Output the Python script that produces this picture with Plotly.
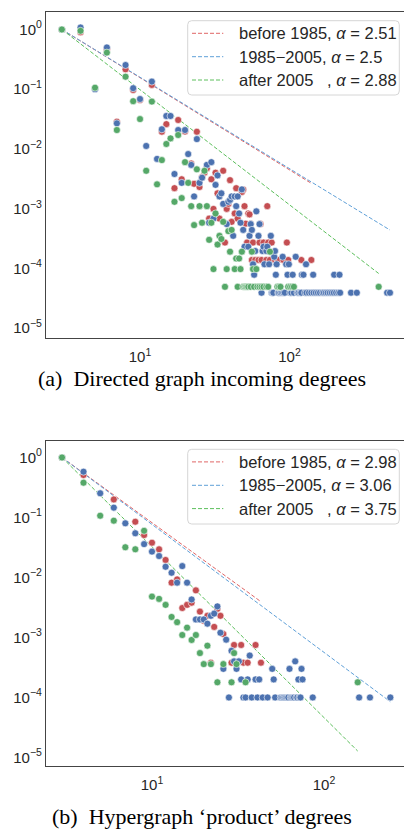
import plotly.graph_objects as go

# ---------------- data: panel (a) Directed graph incoming degrees ----------------
a_red_x = [3, 4, 6, 7, 8, 9, 10, 12, 14, 15, 17, 18, 19, 20, 22, 23, 24, 25, 26, 27, 28, 29, 30, 31,
           32, 33, 34, 36, 37, 38, 39, 40, 41, 43, 44, 45, 48, 49, 50, 51, 52, 53, 54, 55, 56, 57,
           59, 62, 63, 64, 65, 67, 70, 71, 72, 74, 76, 80, 84, 91, 96, 98, 120, 140]
a_red_y = [1.0, 0.9, 0.466, 0.0286, 0.215, 0.097, 0.066, 0.118, 0.0194, 0.026, 0.0022, 0.0305,
           0.0031, 0.0195, 0.0057, 0.0026, 0.0194, 0.0023, 0.0034, 0.0040, 0.0047, 0.00068, 0.0031,
           0.00099, 0.0040, 0.0018, 0.00068, 0.0043, 0.00027, 0.00099, 0.0012, 0.0030, 0.0006,
           0.00083, 0.0022, 0.00068, 0.0019, 0.0021, 0.0011, 0.00056, 0.00027, 0.00083, 0.0008,
           0.00055, 0.000138, 0.00027, 0.000138, 0.000138, 0.00027, 0.00055, 0.000138, 0.00027,
           0.000138, 0.0011, 0.00027, 0.000138, 0.00027, 0.000138, 0.000138, 0.000138, 0.00027,
           0.000138, 0.000138, 0.000138]

a_blue_x = [3, 4, 5, 6, 7, 8, 9, 10, 11, 12, 13, 14, 15, 16, 17, 18, 19, 20, 21, 22, 23, 24, 25, 26,
            28, 29, 30, 31, 32, 33, 34, 35, 36, 38, 39, 40, 41, 42, 43, 44, 45, 46, 47, 48, 49, 50,
            53, 54, 55, 56, 57, 58, 59, 60, 62, 63, 65, 66, 67, 68, 70, 71, 73, 75, 76, 77, 78, 79,
            80, 81, 82, 84, 85, 87, 89, 90, 91, 93, 95, 97, 99, 101, 103, 105, 107, 110, 113, 115,
            118, 120, 121, 124, 127, 129, 130, 135, 140, 144, 145, 150, 155, 160, 166, 170, 175,
            180, 186, 192, 198, 199, 205, 212, 216, 218, 258, 282, 450, 470]
a_blue_y = [1.0, 1.08, 0.10, 0.50, 0.0268, 0.254, 0.104, 0.0685, 0.0112, 0.134, 0.0068, 0.0213,
            0.0356, 0.0356, 0.0038, 0.0207, 0.0027, 0.0207, 0.0082, 0.0054, 0.0016, 0.0146, 0.0027,
            0.0033, 0.0054, 0.00058, 0.0060, 0.00068, 0.0025, 0.0036, 0.0016, 0.0018, 0.0012,
            0.00055, 0.0013, 0.0014, 0.0016, 0.00035, 0.0016, 0.0011, 0.0016, 0.00083, 0.00058,
            0.0021, 0.00044, 0.00023, 0.00023, 0.00035, 0.00055, 0.00044, 0.000117, 0.000078,
            0.000195, 0.0009, 0.00035, 0.00055, 0.000039, 0.000195, 0.00023, 0.000117, 0.000195,
            0.00023, 0.000117, 0.00035, 0.000039, 0.000039, 0.000039, 0.000156, 0.000195, 0.000078,
            0.000117, 0.000039, 0.000039, 0.000039, 0.000039, 0.000156, 0.000039, 0.000039,
            0.000117, 0.000078, 0.000117, 0.000039, 0.000039, 0.000078, 0.000039, 0.000156,
            0.000039, 0.000039, 0.000039, 0.000039, 0.000078, 0.000078, 0.000039, 0.000117,
            0.000039, 0.000039, 0.000039, 0.000078, 0.000039, 0.000039, 0.000039, 0.000039,
            0.000039, 0.000039, 0.000039, 0.000039, 0.000039, 0.000039, 0.000039, 0.000078,
            0.000039, 0.000039, 0.000078, 0.000039, 0.000039, 0.000039, 0.000039, 0.000039]

a_green_x = [3, 4, 5, 6, 7, 8, 9, 10, 11, 12, 13, 14, 15, 16, 17, 18, 19, 20, 21, 22, 23, 24, 25,
             26, 27, 28, 29, 30, 31, 32, 33, 34, 35, 36, 37, 38, 39, 40, 41, 43, 44, 45, 46, 47, 48,
             49, 50, 51, 52, 53, 55, 56, 57, 58, 60, 61, 63, 65, 67, 70, 72, 74, 83, 85, 87, 98,
             101, 104, 107, 395]
a_green_y = [1.0, 0.95, 0.106, 0.41, 0.0207, 0.162, 0.063, 0.0316, 0.0043, 0.062, 0.00255, 0.0065,
             0.0121, 0.015, 0.0013, 0.0171, 0.0015, 0.006, 0.0027, 0.0011, 0.00053, 0.00455, 0.0011,
             0.00058, 0.0043, 0.0011, 0.0003, 0.00058, 0.000097, 0.00083, 0.00025, 0.00035, 0.00031,
             0.0006, 0.000049, 0.000097, 0.00042, 0.00019, 0.00044, 0.000097, 0.000146, 0.000049,
             0.000146, 0.000097, 0.00019, 0.000049, 0.000049, 0.000049, 0.000049, 0.000049,
             0.000049, 0.00019, 0.000097, 0.000049, 0.000097, 0.000049, 0.000049, 0.000049,
             0.000049, 0.000049, 0.000049, 0.00019, 0.000049, 0.000049, 0.000049, 0.000049,
             0.000049, 0.000049, 0.000049, 0.000049]

a_alpha = [2.51, 2.5, 2.88]
# fitted power-law lines: value at the last degree of each period
a_fit_end_y = [0.00265, 0.000438, 0.000082]

# ---------------- data: panel (b) Hypergraph 'product' degrees ----------------
b_red_x = [3, 4, 6, 8, 9, 10, 11, 12, 13, 14, 15, 16, 17, 18, 19, 20, 21, 22, 23, 24, 25, 26, 29,
           30, 31, 33, 34, 36, 40, 43]
b_red_y = [1.0, 0.51, 0.20, 0.085, 0.051, 0.038, 0.0295, 0.0196, 0.0082, 0.0093, 0.0031, 0.0035,
           0.0038, 0.0061, 0.0027, 0.0019, 0.0023, 0.00038, 0.0015, 0.0030, 0.0023, 0.00114,
           0.00038, 0.00075, 0.00038, 0.00075, 0.00038, 0.00038, 0.00075, 0.00038]

b_blue_x = [3, 4, 5, 6, 7, 8, 9, 10, 11, 12, 13, 14, 15, 16, 17, 18, 19, 20, 21, 22, 23, 24, 25,
            26, 27, 28, 29, 30, 31, 32, 33, 34, 35, 36, 37, 38, 40, 41, 42, 44, 47, 50, 51, 52, 56,
            57, 58, 59, 60, 61, 62, 63, 64, 65, 66, 67, 68, 69, 70, 71, 72, 73, 74, 75, 86, 160,
            185, 243]
b_blue_y = [1.0, 0.58, 0.253, 0.146, 0.080, 0.0546, 0.036, 0.027, 0.0228, 0.0151, 0.012, 0.0082,
            0.0155, 0.0082, 0.0043, 0.0020, 0.0020, 0.0020, 0.0017, 0.0023, 0.0025, 0.0033, 0.0012,
            0.0003, 0.00092, 0.0001, 0.0006, 0.0004, 0.0003, 0.0004, 0.0002, 0.0001, 0.0001, 0.0002,
            0.0005, 0.0001, 0.0002, 0.0001, 0.0002, 0.0001, 0.0001, 0.0003, 0.0002, 0.0001, 0.0001,
            0.0001, 0.0001, 0.0001, 0.0001, 0.0001, 0.0001, 0.0003, 0.0001, 0.0001, 0.0001, 0.0001,
            0.0004, 0.0001, 0.0001, 0.0002, 0.0001, 0.0001, 0.0003, 0.0002, 0.0001, 0.0001, 0.0001,
            0.0001]

b_green_x = [3, 4, 5, 6, 7, 8, 9, 10, 11, 12, 13, 14, 15, 16, 17, 18, 19, 20, 21, 22, 24, 26, 29,
             30, 31, 35, 157]
b_green_y = [1.0, 0.38, 0.107, 0.0885, 0.0319, 0.0295, 0.060, 0.0048, 0.0044, 0.0035, 0.0022,
             0.0018, 0.0011, 0.00146, 0.00091, 0.0011, 0.00055, 0.00036, 0.00073, 0.00036, 0.000179,
             0.00036, 0.000179, 0.00055, 0.00036, 0.000179, 0.000179]

b_alpha = [2.98, 3.06, 3.75]
b_fit_end_y = [0.00395, 0.000085, 0.0000128]

periods = ["before 1985", "1985\u22122005", "after 2005\u00a0\u00a0\u00a0"]
x_min = 3
y_tick_vals = [1, 1e-1, 1e-2, 1e-3, 1e-4, 1e-5]
y_tick_text = ["10<sup>0</sup>", "10<sup>\u22121</sup>", "10<sup>\u22122</sup>",
               "10<sup>\u22123</sup>", "10<sup>\u22124</sup>", "10<sup>\u22125</sup>"]
x_tick_vals = [10, 100]
x_tick_text = ["10<sup>1</sup>", "10<sup>2</sup>"]
captions = ["(a)\u00a0 Directed graph incoming degrees", "(b)\u00a0 Hypergraph \u2018product\u2019 degrees"]

# ---------------- styling ----------------
W, H = 404, 835
dot_colors = ["#C44E52", "#4C72B0", "#55A868"]
line_colors = ["#e06666", "#5fa0d8", "#5cbf5c"]
SANS = "Liberation Sans, Arial, sans-serif"
SERIF = "Liberation Serif, Times New Roman, serif"
TXT = "#262626"
SPINE = "#444444"


def fx(px):
    return px / W


def fy(py):
    return 1 - py / H


fig = go.Figure()

panels = [
    dict(xs=[a_red_x, a_blue_x, a_green_x], ys=[a_red_y, a_blue_y, a_green_y], alpha=a_alpha,
         fit_end=a_fit_end_y,
         xa="x", ya="y", top=12, bottom=338, xr=[0.371, 2.766], yr=[-5.167, 0.293],
         leg_top=20.7, leg_bottom=95.0, cap=378),
    dict(xs=[b_red_x, b_blue_x, b_green_x], ys=[b_red_y, b_blue_y, b_green_y], alpha=b_alpha,
         fit_end=b_fit_end_y,
         xa="x2", ya="y2", top=441, bottom=765.7, xr=[0.384, 2.465], yr=[-5.137, 0.275],
         leg_top=449.3, leg_bottom=524.0, cap=816),
]

shapes = []
annotations = []
for p in panels:
    # fit lines first (drawn below the dots)
    for k in range(3):
        lx = [x_min, max(p["xs"][k])]
        ly = [p["ys"][k][0], p["fit_end"][k]]
        fig.add_trace(go.Scatter(x=lx, y=ly, mode="lines", xaxis=p["xa"], yaxis=p["ya"],
                                 line=dict(color=line_colors[k], width=1, dash="4px,2px"),
                                 showlegend=False, hoverinfo="skip"))
    for k in range(3):
        fig.add_trace(go.Scatter(x=p["xs"][k], y=p["ys"][k], mode="markers",
                                 xaxis=p["xa"], yaxis=p["ya"], showlegend=False,
                                 marker=dict(color=dot_colors[k], size=7,
                                             line=dict(color="white", width=0.6))))
    # legend box (rounded)
    x0, x1 = fx(187.7), fx(399.3)
    y0, y1 = fy(p["leg_bottom"]), fy(p["leg_top"])
    rx, ry = 4 / W, 4 / H
    path = (f"M {x0+rx},{y1} L {x1-rx},{y1} Q {x1},{y1} {x1},{y1-ry} L {x1},{y0+ry} "
            f"Q {x1},{y0} {x1-rx},{y0} L {x0+rx},{y0} Q {x0},{y0} {x0},{y0+ry} "
            f"L {x0},{y1-ry} Q {x0},{y1} {x0+rx},{y1} Z")
    shapes.append(dict(type="path", path=path, xref="paper", yref="paper",
                       fillcolor="rgba(255,255,255,0.85)", line=dict(color="#d6d6d6", width=1),
                       layer="above"))
    rows = [p["leg_top"] + 12.6, p["leg_top"] + 36.0, p["leg_top"] + 59.3]
    for k in range(3):
        shapes.append(dict(type="line", xref="paper", yref="paper", x0=fx(192), x1=fx(223.3),
                           y0=fy(rows[k]), y1=fy(rows[k]),
                           line=dict(color=line_colors[k], width=1, dash="4px,2px"), layer="above"))
        annotations.append(dict(xref="paper", yref="paper", x=fx(236.5), y=fy(rows[k]),
                                xanchor="left", yanchor="middle", showarrow=False,
                                text=f"{periods[k]}, <i>\u03b1</i> = {p['alpha'][k]}",
                                font=dict(family=SANS, size=16.5, color=TXT)))

for i, p in enumerate(panels):
    annotations.append(dict(xref="paper", yref="paper", x=0.5, y=fy(p["cap"]), xanchor="center",
                            yanchor="middle", showarrow=False, text=captions[i],
                            font=dict(family=SERIF, size=22, color="black")))

axis_common = dict(type="log", showgrid=False, zeroline=False, ticks="",
                   tickfont=dict(family=SANS, size=15, color=TXT),
                   showline=True, linecolor=SPINE, linewidth=1.25)

layout = dict(width=W, height=H, margin=dict(l=0, r=0, t=0, b=0),
              paper_bgcolor="white", plot_bgcolor="white",
              shapes=shapes, annotations=annotations, showlegend=False)
for i, p in enumerate(panels):
    sfx = "" if i == 0 else "2"
    layout["xaxis" + sfx] = dict(axis_common, domain=[fx(46), 1.0], range=p["xr"],
                                 anchor="y" + sfx, mirror=True, ticklabelstandoff=5,
                                 tickvals=x_tick_vals, ticktext=x_tick_text)
    layout["yaxis" + sfx] = dict(axis_common, domain=[fy(p["bottom"]), fy(p["top"])],
                                 range=p["yr"], anchor="x" + sfx, mirror=False,
                                 tickvals=y_tick_vals, ticktext=y_tick_text)

fig.update_layout(**layout)
fig.write_html("out.html")
